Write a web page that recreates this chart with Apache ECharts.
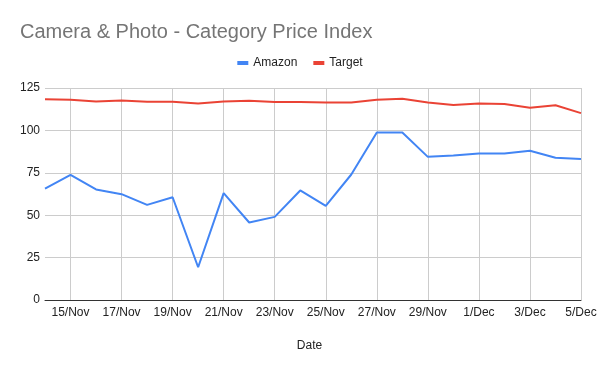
<!DOCTYPE html>
<html><head><meta charset="utf-8">
<script src="https://cdn.jsdelivr.net/npm/echarts@6/dist/echarts.min.js"></script>
<style>html,body{margin:0;padding:0;background:#fff}#c{width:600px;height:371px}</style>
</head><body><div id="c"></div>
<script>
const dates = ['14/Nov','15/Nov','16/Nov','17/Nov','18/Nov','19/Nov','20/Nov','21/Nov','22/Nov','23/Nov','24/Nov','25/Nov','26/Nov','27/Nov','28/Nov','29/Nov','30/Nov','1/Dec','2/Dec','3/Dec','4/Dec','5/Dec'];
const amazon = [65.7,73.8,65.2,62.4,56.1,60.6,19.3,63.0,45.7,49.0,64.6,55.5,74.0,98.8,98.8,84.4,85.2,86.4,86.4,88.0,83.9,83.1];
const target = [118.3,118.1,117.1,117.7,116.9,116.9,115.9,117.1,117.5,116.7,116.7,116.5,116.5,118.1,118.7,116.5,115.0,115.9,115.6,113.4,114.8,110.2];
const yTicks = [0,25,50,75,100,125];

const chart = echarts.init(document.getElementById('c'));
const font = 'Liberation Sans, Arial, sans-serif';
chart.setOption({
  animation:false,
  title:{text:'Camera & Photo - Category Price Index',left:15,top:17,textStyle:{fontFamily:font,fontSize:20,fontWeight:'normal',color:'#757575'}},
  legend:{top:52,left:'center',itemWidth:11,itemHeight:4,itemGap:16,icon:'rect',textStyle:{fontFamily:font,fontSize:12,color:'#222'},data:['Amazon','Target']},
  grid:{left:45,right:19,top:88,bottom:71,containLabel:false},
  xAxis:{type:'category',data:dates,boundaryGap:false,name:'Date',nameLocation:'middle',nameGap:40,
    nameTextStyle:{fontFamily:font,fontSize:12,color:'#222',padding:[0,7,0,0]},
    axisLine:{lineStyle:{color:'#333',width:1}},axisTick:{show:false},
    axisLabel:{interval:(i)=>i%2===1,fontFamily:font,fontSize:12,color:'#222',margin:7},
    splitLine:{show:true,interval:(i)=>i%2===1,lineStyle:{color:'#ccc',width:1}}},
  yAxis:{type:'value',min:yTicks[0],max:yTicks[yTicks.length-1],interval:25,
    axisLine:{show:false},axisTick:{show:false},
    axisLabel:{fontFamily:font,fontSize:12,color:'#222',margin:5},
    splitLine:{lineStyle:{color:'#ccc',width:1}}},
  series:[
    {name:'Amazon',type:'line',data:amazon,symbol:'none',lineStyle:{color:'#4285f4',width:2},itemStyle:{color:'#4285f4'}},
    {name:'Target',type:'line',data:target,symbol:'none',lineStyle:{color:'#ea4335',width:2},itemStyle:{color:'#ea4335'}}
  ]
});
</script></body></html>
